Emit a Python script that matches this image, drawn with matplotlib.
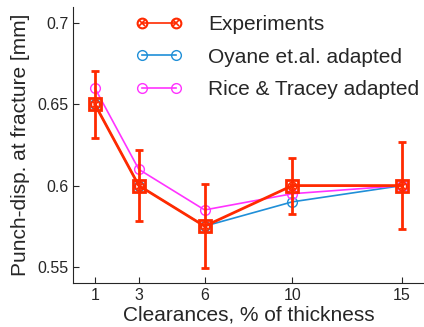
import numpy as np
import matplotlib.pyplot as plt
from matplotlib.lines import Line2D

clearance = [1, 3, 6, 10, 15]
exp_disp = [0.65, 0.60, 0.575, 0.60, 0.60]
exp_err = [0.0205, 0.022, 0.026, 0.0173, 0.027]
oyane_disp = [0.65, 0.60, 0.575, 0.59, 0.60]
rice_disp = [0.66, 0.61, 0.585, 0.595, 0.60]

red = '#ff2a00'
blue = '#1f8fd8'
magenta = '#ff33ff'

plt.rcParams['font.family'] = ['Liberation Sans', 'DejaVu Sans']

fig = plt.figure(figsize=(4.24, 3.27), dpi=100)
ax = fig.add_axes([73 / 424, (327 - 283) / 327, (424 - 73) / 424, (283 - 7) / 327])

# model curves
ax.plot(clearance, oyane_disp, color=blue, lw=1.2, marker='o', ms=7,
        mfc='none', mec=blue, zorder=3)
ax.plot(clearance, rice_disp, color=magenta, lw=1.2, marker='o', ms=7,
        mfc='none', mec=magenta, zorder=3)

# experiments with scatter
ax.errorbar(clearance, exp_disp, yerr=exp_err, color=red, lw=2, marker='s', ms=8,
            mfc='none', mec=red, mew=2, capsize=3, capthick=2, zorder=4)
ax.plot(clearance, exp_disp, ls='none', marker='o', ms=6,
        mfc='none', mec=red, mew=1.2, zorder=5)
ax.plot(clearance, exp_disp, ls='none', marker='x', ms=4, mec=red, mew=1.0, zorder=5)

ax.set_xlim(0, 16)
ax.set_ylim(0.54, 0.71)
ax.set_xticks(clearance)
ax.set_yticks([0.55, 0.6, 0.65, 0.7])
ax.set_yticklabels(['0.55', '0.6', '0.65', '0.7'])
ax.tick_params(direction='in', labelsize=11.5, length=4, colors='#262626')
ax.spines['top'].set_visible(False)
ax.spines['right'].set_visible(False)
for s in ['left', 'bottom']:
    ax.spines[s].set_color('#262626')

ax.set_xlabel('Clearances, % of thickness', fontsize=15, color='#262626', labelpad=2)
ax.set_ylabel('Punch-disp. at fracture [mm]', fontsize=15, color='#262626', labelpad=5)

# legend handles
exp_handle = (Line2D([], [], color=red, lw=1.2, marker='o', ms=7, mfc='none', mec=red, mew=1.5),
              Line2D([], [], ls='none', marker='x', ms=5, mec=red, mew=1.2))
oy_handle = Line2D([], [], color=blue, lw=1.2, marker='o', ms=7, mfc='none', mec=blue)
rt_handle = Line2D([], [], color=magenta, lw=1.2, marker='o', ms=7, mfc='none', mec=magenta)
leg = fig.legend([exp_handle, oy_handle, rt_handle],
                 ['Experiments', 'Oyane et.al. adapted', 'Rice & Tracey adapted'],
                 loc='upper left', bbox_to_anchor=(136 / 424, 1 - 15 / 327),
                 bbox_transform=fig.transFigure, frameon=False, fontsize=15,
                 numpoints=2, handlelength=2.2, handletextpad=1.25,
                 borderpad=0, borderaxespad=0, labelspacing=0.65,
                 labelcolor='#262626')

fig.savefig('out.png', dpi=100)
